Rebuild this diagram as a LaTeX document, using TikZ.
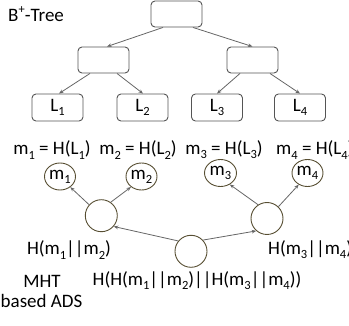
\documentclass[tikz,border=0pt]{standalone}
\usepackage{fontspec}
\setmainfont{Carlito}
\usetikzlibrary{arrows.meta,shapes.geometric}
\definecolor{boxgray}{HTML}{555555}
\definecolor{ringolive}{HTML}{574E32}
\definecolor{arrowgray}{HTML}{666666}
% lowered / raised small indices in the text font
\newcommand\lo[1]{\raisebox{-0.22em}{\fontsize{12.5}{12.5}\selectfont #1}}
\newcommand\hi[1]{\raisebox{0.45em}{\fontsize{12.5}{12.5}\selectfont #1}}
\begin{document}
\begin{tikzpicture}[x=1pt,y=-1pt,
  every node/.style={font=\fontsize{19}{21}\selectfont, inner sep=0pt},
  treebox/.style={draw=boxgray, line width=0.9pt, rounded corners=4pt,
    minimum width=51pt, minimum height=26pt},
  hashnode/.style={draw=ringolive, ellipse, line width=0.9pt,
    minimum width=32pt, minimum height=32pt},
  leafhash/.style={hashnode, minimum width=31pt, minimum height=27pt},
  arr/.style={draw=arrowgray, line width=0.8pt, -{Stealth[length=4.5pt,width=3.6pt]}},
]
\useasboundingbox (0,0) rectangle (349,326);

% B+-tree
\node[anchor=west] (btitle) at (8,14) {B\hi{+}-Tree};
\node[treebox] (root) at (176.5,14) {};
\node[treebox] (lm) at (103.5,60) {};
\node[treebox] (rm) at (252.5,60) {};
\node[treebox, minimum height=27pt] (l1) at (57.5,107.5) {L\lo1};
\node[treebox, minimum height=27pt] (l2) at (142.5,107.5) {L\lo2};
\node[treebox, minimum height=27pt] (l3) at (217,107.5) {L\lo3};
\node[treebox, minimum height=27pt] (l4) at (300,107.5) {L\lo4};

\draw[arr] ([xshift=-13.5pt]root.south) -- ([xshift=3.5pt]lm.north);
\draw[arr] ([xshift=16.5pt]root.south) -- (rm.north);
\draw[arr] ([xshift=-13.5pt]lm.south) -- ([xshift=1.5pt]l1.north);
\draw[arr] ([xshift=13.5pt]lm.south) -- ([xshift=0.5pt]l2.north);
\draw[arr] ([xshift=-12.5pt]rm.south) -- (l3.north);
\draw[arr] ([xshift=17.5pt]rm.south) -- (l4.north);

% leaf digests
\node (d1) at (52,150) {m\lo1 = H(L\lo1)};
\node (d2) at (138,150) {m\lo2 = H(L\lo2)};
\node (d3) at (224,150) {m\lo3 = H(L\lo3)};
\node[anchor=west] (d4) at (276,150) {m\lo4 = H(L\lo4)};

% Merkle hash tree
\node[leafhash] (m1) at (60,176.5) {m\lo1};
\node[leafhash] (m2) at (141.5,176.5) {m\lo2};
\node[leafhash, minimum width=32pt] (m3) at (220.5,173) {m\lo3};
\node[leafhash] (m4) at (307.5,173) {m\lo4};
\node[hashnode] (lc) at (101.3,215.7) {};
\node[hashnode] (rc) at (267,218.5) {};
\node[hashnode] (rt) at (191,251.3) {};

\draw[arr] (lc.138) -- (m1.-46);
\draw[arr] (lc.55) -- (m2.225);
\draw[arr] (rc.123) -- (m3.-51);
\draw[arr] (rc.46) -- (m4.233);
\draw[arr] (rt.141) -- (lc.-41);
\draw[arr] (rt.43) -- (rc.229);

\node (hl) at (69,250) {H(m\lo1||m\lo2)};
\node[anchor=west] (hr) at (268,250) {H(m\lo3||m\lo4)};
\node (hroot) at (197,281) {H(H(m\lo1||m\lo2)||H(m\lo3||m\lo4))};
\node (mht) at (42,281) {MHT};
\node[anchor=west] (ads) at (0.5,301) {based ADS};
\end{tikzpicture}
\end{document}
